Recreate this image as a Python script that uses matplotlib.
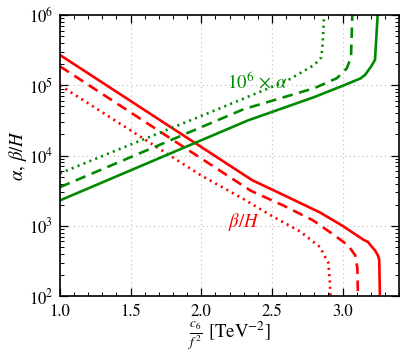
import matplotlib
matplotlib.use("Agg")
import matplotlib.pyplot as plt
from matplotlib.ticker import LogLocator, MultipleLocator, NullFormatter

plt.rcParams['font.family'] = ['STIXGeneral', 'DejaVu Serif']
plt.rcParams['mathtext.fontset'] = 'stix'

# beta/H curves (red)
beta_solid_x = [1.0, 2.36, 2.56, 2.84, 3.0, 3.15, 3.18, 3.20, 3.23, 3.25, 3.26, 3.262, 3.265]
beta_solid_y = [2.7e5, 4470, 2880, 1550, 1000, 630, 590, 525, 447, 380, 330, 200, 90]
beta_dash_x = [1.0, 2.35, 2.58, 2.79, 2.94, 3.04, 3.09, 3.105, 3.11]
beta_dash_y = [1.86e5, 3160, 1950, 1200, 740, 525, 380, 250, 90]
beta_dot_x = [1.0, 2.0, 2.3, 2.5, 2.7, 2.84, 2.90, 2.91, 2.915]
beta_dot_y = [1.0e5, 5200, 2400, 1380, 830, 500, 295, 160, 90]

# 10^6 x alpha curves (green)
alpha_solid_x = [1.0, 2.33, 2.80, 3.01, 3.13, 3.16, 3.20, 3.23, 3.25]
alpha_solid_y = [2.3e3, 3.16e4, 6.8e4, 1.0e5, 1.26e5, 1.41e5, 1.82e5, 2.3e5, 1.1e6]
alpha_dash_x = [1.0, 2.30, 2.80, 2.96, 3.03, 3.06, 3.07]
alpha_dash_y = [3.55e3, 4.57e4, 9.1e4, 1.26e5, 1.74e5, 2.5e5, 1.1e6]
alpha_dot_x = [1.0, 2.02, 2.61, 2.80, 2.85, 2.86, 2.87]
alpha_dot_y = [5.6e3, 3.8e4, 1.17e5, 1.95e5, 2.5e5, 4.0e5, 1.1e6]

x_ticks = [1.0, 1.5, 2.0, 2.5, 3.0]

fig = plt.figure(figsize=(4.08, 3.58), dpi=100)
ax = fig.add_axes([0.147, 0.173, 0.831, 0.785])

red = '#ff0000'
green = '#008a00'
lw = 1.9
ax.plot(beta_solid_x, beta_solid_y, color=red, lw=lw, ls='-')
ax.plot(beta_dash_x, beta_dash_y, color=red, lw=lw, ls=(0, (4, 2.5)))
ax.plot(beta_dot_x, beta_dot_y, color=red, lw=lw, ls=(0, (0.8, 1.6)))
ax.plot(alpha_solid_x, alpha_solid_y, color=green, lw=lw, ls='-')
ax.plot(alpha_dash_x, alpha_dash_y, color=green, lw=lw, ls=(0, (4, 2.5)))
ax.plot(alpha_dot_x, alpha_dot_y, color=green, lw=lw, ls=(0, (0.8, 1.6)))

ax.set_yscale('log')
ax.set_xlim(1.0, 3.4)
ax.set_ylim(1e2, 1e6)
ax.set_xticks(x_ticks)
ax.set_xticklabels([f"{v:.1f}" for v in x_ticks])
ax.xaxis.set_minor_locator(MultipleLocator(0.1))
ax.yaxis.set_major_locator(LogLocator(base=10, numticks=10))
ax.yaxis.set_minor_locator(LogLocator(base=10, subs=range(2, 10), numticks=100))
ax.yaxis.set_minor_formatter(NullFormatter())

ax.tick_params(which='both', direction='in', top=True, right=True, labelsize=12)
ax.tick_params(which='major', length=6, width=0.9)
ax.tick_params(which='minor', length=3, width=0.7)
ax.tick_params(axis='x', which='major', pad=6)
ax.tick_params(axis='y', which='major', pad=5)
for s in ax.spines.values():
    s.set_linewidth(1.2)
ax.grid(True, which='major', ls=(0, (1, 3)), color='#bbbbbb', lw=0.8)

ax.text(2.40, 1.12e5, r'$10^6\,\times\,\alpha$', color=green, fontsize=13.5, ha='center', va='center')
ax.text(2.30, 1.15e3, r'$\beta/H$', color=red, fontsize=13.5, ha='center', va='center')

ax.set_ylabel(r'$\alpha,\,\beta/H$', fontsize=13.5, labelpad=0)
ax.set_xlabel(r'$\frac{c_6}{f^2}$ [TeV$^{-2}$]', fontsize=13.5, labelpad=0)

fig.savefig('out.png', dpi=100)
